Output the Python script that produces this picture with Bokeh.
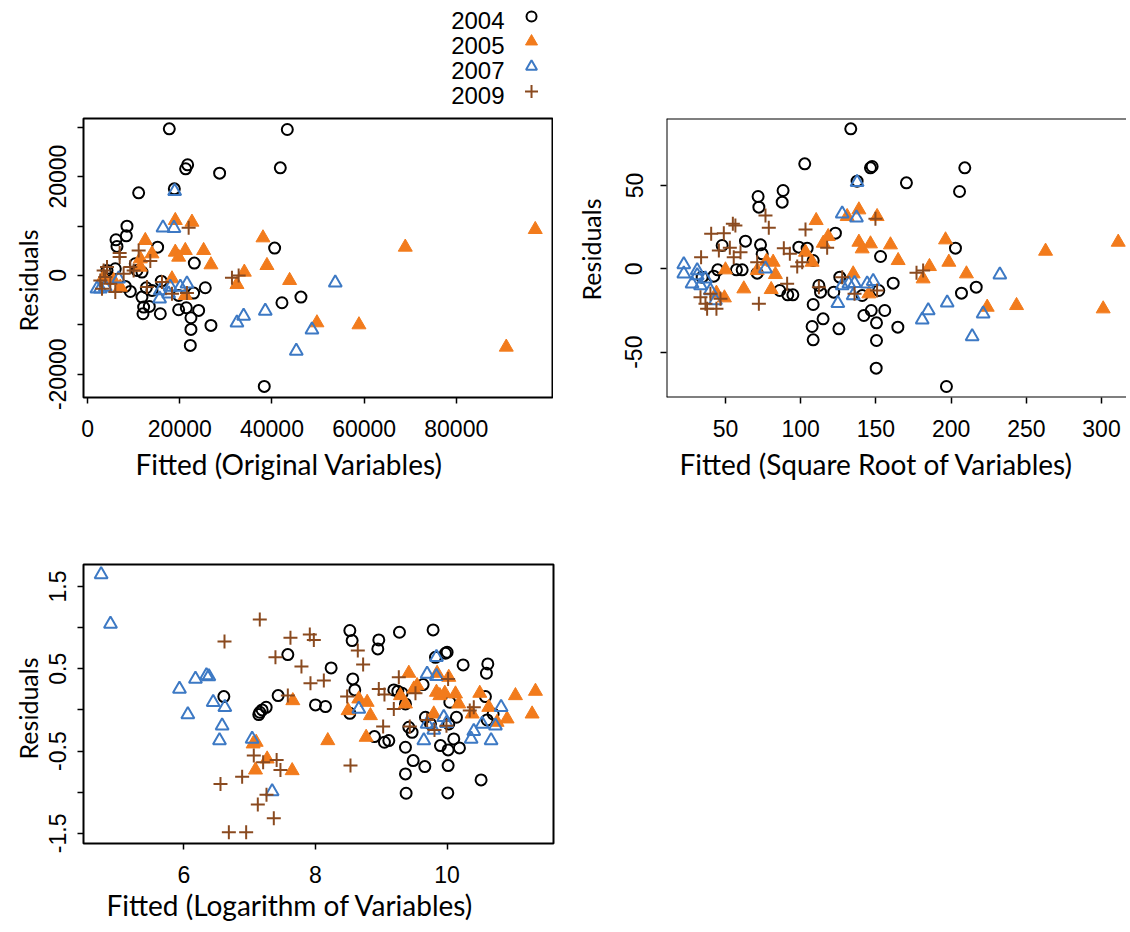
from bokeh.plotting import figure
from bokeh.layouts import column, row
from bokeh.models import Range1d, FixedTicker, Span, Title
from bokeh.core.properties import value
from bokeh.embed import file_html
from bokeh.resources import INLINE

years = ["2004", "2005", "2007", "2009"]

# ---------------- Panel 1: original variables ----------------
orig_2004_x = [17720, 43330, 21700, 21270, 28640, 41810, 11070, 18810, 8535, 8390, 6150, 6365, 15190,
               40580, 23150, 10340, 11790, 6000, 9260, 11790, 12150, 12010, 13380, 15770, 25530, 23000,
               19750, 21410, 22420, 24090, 22420, 22280, 26760, 42170, 46290, 38330, 15985, 12730, 8170,
               4195, 4920, 19750, 13960, 10700]
orig_2004_y = [29670, 29530, 22390, 21580, 20700, 21780, 16720, 17530, 9980, 8020, 7215, 5870, 5730,
               5530, 2500, 2360, 674, 1350, -3240, -4380, -6405, -7755, -6270, -7755, -2495, -3575,
               -6945, -6540, -8565, -7080, -10920, -14160, -10115, -5530, -4380, -22460, -1150, -2495, -2225,
               1010, -674, -4045, -3030, 1010]
orig_2005_x = [19020, 22640, 12510, 13960, 19020, 21190, 25170, 19750, 26760, 38050, 38910, 34000, 32400,
               43830, 68930, 97140, 49760, 58880, 90850, 18300, 21190, 11430, 7090, 5640, 3470, 11430]
orig_2005_y = [11130, 10790, 7080, 4380, 4720, 5060, 5060, 3710, 2160, 7620, 2020, 674, -1820,
               -1010, 5730, 9305, -9575, -9980, -14500, -674, -4045, 1690, -2360, -1010, -337, 3370]
orig_2007_x = [18880, 16350, 18730, 6725, 53740, 38550, 33850, 32400, 48680, 45280, 21550, 17940, 15770,
               15620, 17580, 20110, 2750, 2025, 3830]
orig_2007_y = [17060, 9640, 9575, -674, -1480, -7215, -8225, -9575, -10990, -15310, -1690, -2360, -3030,
               -4720, -3710, -2360, -2700, -2700, -2360]
orig_2009_x = [21920, 11070, 6945, 6945, 13600, 9980, 9260, 31320, 32770, 12870, 18300, 21550, 16130,
               4195, 3470, 2750, 3110, 4920, 6000, 7810, 3830]
orig_2009_y = [9640, 5060, 4520, 3710, 2900, 1010, 1690, -472, 0, -2360, -3710, -3575, -1350,
               1690, 1010, -1010, -2700, -1690, -3370, 337, -337]

# ---------------- Panel 2: square root of variables ----------------
sqrt_2004_x = [133.3, 102.7, 147.5, 146.4, 209.1, 137.5, 170.3, 205.6, 71.7, 88.3, 72.2, 87.7, 123.1, 63.3,
               47.8, 73.3, 74.4, 98.8, 104.3, 108.3, 153.1, 202.9, 57.3, 61.1, 44.9, 42.2, 34.5, 71.1,
               126.0, 112.1, 86.1, 91.4, 94.8, 113.2, 122.0, 140.9, 151.9, 161.5, 206.9, 216.7, 108.3,
               114.9, 107.6, 108.3, 125.4, 142.0, 146.9, 150.4, 155.9, 150.4, 164.6, 150.2, 196.9]
sqrt_2004_y = [84.0, 63.0, 61.4, 60.6, 60.6, 52.6, 51.6, 46.4, 43.4, 47.0, 37.0, 40.0, 21.4, 16.6,
               14.0, 14.4, 9.0, 13.0, 12.4, 5.0, 7.4, 12.4, -0.6, -0.6, -0.6, -4.4, -5.0, -2.6,
               -5.0, -10.0, -13.0, -15.6, -15.6, -14.0, -14.0, -16.0, -13.0, -8.6, -14.6, -11.0, -21.4,
               -30.0, -34.6, -42.6, -36.0, -28.0, -25.0, -32.4, -25.0, -43.0, -35.0, -59.6, -70.6]
sqrt_2005_x = [110.3, 118.3, 115.0, 103.2, 107.6, 130.9, 138.7, 150.8, 138.7, 140.9, 146.4, 159.7, 164.8,
               196.3, 198.5, 185.6, 181.4, 210.2, 134.9, 224.0, 243.5, 262.8, 301.1, 311.1, 77.3, 81.7,
               83.2, 62.2, 80.4, 145.3, 50.0, 71.1, 49.3, 44.0]
sqrt_2005_y = [29.0, 19.4, 15.4, 10.0, 4.0, 31.4, 35.4, 31.4, 16.0, 12.0, 15.0, 14.4, 5.0,
               17.4, 4.0, 1.4, -6.0, -3.0, -3.0, -23.0, -22.0, 10.6, -24.0, 16.0, 4.6, 4.0,
               -3.4, -12.0, -12.4, -15.0, -0.6, -1.0, -17.4, -14.6]
sqrt_2007_x = [137.5, 127.6, 137.1, 76.6, 232.4, 124.7, 197.4, 184.8, 180.8, 221.3, 214.0, 148.2, 144.2,
               135.8, 132.0, 127.6, 134.9, 22.3, 22.3, 31.2, 27.8, 33.4, 36.7, 40.0, 43.3, 31.2]
sqrt_2007_y = [52.0, 33.0, 30.6, 0.0, -3.6, -20.6, -20.4, -25.0, -30.6, -27.0, -40.6, -7.4, -9.0,
               -8.6, -9.0, -10.0, -16.0, 2.6, -3.0, -1.0, -9.0, -10.0, -6.0, -13.0, -19.0, -4.0]
sqrt_2009_x = [54.9, 56.6, 76.6, 78.8, 103.2, 149.7, 40.5, 48.9, 33.8, 45.6, 52.9, 55.5, 60.0, 71.1,
               88.8, 92.8, 97.7, 101.0, 117.6, 72.2, 91.0, 112.1, 127.6, 135.8, 150.8, 177.0, 181.4,
               33.4, 36.7, 40.0, 44.0, 46.7, 37.8]
sqrt_2009_y = [27.0, 26.0, 32.0, 24.6, 23.6, 30.0, 21.0, 21.4, 7.0, 11.0, 12.6, 7.0, 10.0, 4.0,
               12.4, 9.0, 1.4, 4.0, 12.6, -21.0, -9.0, -11.0, -5.0, -15.0, -13.0, -2.4, -1.0,
               -17.0, -21.0, -15.0, -24.0, -18.0, -24.0]

# ---------------- Panel 3: logarithm of variables ----------------
log_2004_x = [6.608, 7.154, 7.139, 7.190, 7.251, 7.433, 7.580, 8.238, 8.000, 8.152, 8.522, 8.557, 8.567,
              8.597, 8.522, 8.962, 8.947, 9.276, 9.190, 9.251, 9.316, 9.367, 8.896, 9.048, 9.114, 9.367,
              9.484, 9.367, 9.377, 9.661, 9.418, 9.468, 9.635, 9.787, 9.823, 9.975, 10.000, 9.671, 9.747,
              10.041, 10.142, 10.025, 10.101, 9.899, 10.015, 10.187, 10.015, 10.010, 10.243, 10.618,
              10.597, 10.582, 10.699, 10.608, 10.516]
log_2004_y = [0.162, -0.028, -0.057, 0.000, 0.032, 0.174, 0.673, 0.511, 0.061, 0.041, 0.965, 0.843, 0.377,
              0.243, -0.041, 0.851, 0.742, 0.944, 0.243, 0.227, 0.203, 0.073, -0.324, -0.393, -0.373, -0.454,
              -0.616, -0.778, -1.013, -0.689, -0.211, -0.272, 0.308, 0.973, 0.640, 0.689, 0.701, -0.089, -0.170,
              0.093, -0.089, -0.170, -0.353, -0.434, -0.486, -0.462, -0.677, -1.009, 0.547, 0.559,
              0.446, 0.162, -0.049, -0.122, -0.851]
log_2005_x = [7.656, 8.187, 7.099, 7.053, 7.266, 7.089, 7.646, 8.496, 8.658, 8.785, 8.835, 8.770, 9.291,
              9.367, 9.418, 9.494, 9.544, 9.848, 9.838, 9.889, 9.965, 10.127, 10.177, 9.797, 10.025,
              10.496, 10.633, 10.380, 10.759, 10.911, 11.038, 11.342, 11.291]
log_2005_y = [0.113, -0.373, -0.393, -0.413, -0.596, -0.730, -0.738, -0.008, 0.134, 0.093, -0.069, -0.332, 0.174,
              0.073, 0.446, 0.255, 0.296, 0.446, 0.215, 0.174, 0.203, 0.195, 0.073, -0.049, 0.397,
              0.203, 0.032, -0.049, -0.150, -0.109, 0.174, 0.227, -0.049]
log_2007_x = [4.744, 4.886, 5.934, 6.177, 6.344, 6.380, 6.061, 6.446, 6.623, 6.582, 6.542, 7.038, 7.342,
              8.658, 9.838, 9.696, 9.838, 9.646, 9.696, 9.797, 9.949, 9.990, 10.405, 10.365, 10.532,
              10.668, 10.734, 10.820]
log_2007_y = [1.646, 1.046, 0.255, 0.377, 0.418, 0.405, -0.057, 0.093, 0.032, -0.191, -0.373, -0.353, -0.993,
              0.012, 0.640, 0.438, 0.409, -0.373, -0.170, -0.243, -0.089, -0.162, -0.259, -0.353, -0.170,
              -0.373, -0.191, 0.032]
log_2009_x = [7.154, 6.618, 7.620, 7.914, 7.975, 7.392, 7.787, 7.924, 8.127, 7.580, 8.643, 8.724, 8.962,
              9.048, 8.481, 9.190, 9.266, 9.519, 10.015, 10.344, 10.405, 9.028, 9.433, 9.696, 9.808,
              9.990, 7.063, 7.205, 7.410, 7.468, 6.886, 6.557, 7.256, 7.124, 7.367, 6.684, 6.947, 8.532]
log_2009_y = [1.098, 0.831, 0.876, 0.916, 0.851, 0.640, 0.527, 0.324, 0.357, 0.174, 0.722, 0.551, 0.255,
              0.186, 0.162, 0.012, 0.397, 0.203, 0.377, -0.008, 0.032, -0.203, -0.203, -0.122, -0.243,
              -0.191, -0.555, -0.636, -0.608, -0.730, -0.811, -0.900, -1.030, -1.151, -1.317, -1.488,
              -1.488, -0.677]

# ticks and tick labels
orig_xticks = [0, 20000, 40000, 60000, 80000]
orig_xlabels = ["0", "20000", "40000", "60000", "80000"]
orig_yticks = [-20000, -10000, 0, 10000, 20000, 30000]
orig_ylabels = ["-20000", "", "0", "", "20000", ""]
sqrt_xticks = [50, 100, 150, 200, 250, 300]
sqrt_xlabels = ["50", "100", "150", "200", "250", "300"]
sqrt_yticks = [-50, 0, 50]
sqrt_ylabels = ["-50", "0", "50"]
log_xticks = [6, 8, 10]
log_xlabels = ["6", "8", "10"]
log_yticks = [-1.5, -1.0, -0.5, 0.0, 0.5, 1.0, 1.5]
log_ylabels = ["-1.5", "", "-0.5", "", "0.5", "", "1.5"]

ORANGE = "#F27B1C"
BLUE = "#3D79C4"
BROWN = "#8A4A1F"
TICK_FONT = "Liberation Sans"
TITLE_FONT = "Lato"


def draw_year(p, year, xs, ys, legend=False):
    if year == "2004":
        p.scatter(xs, ys, marker="circle", size=10 if legend else 11, fill_color=None,
                  line_color="black", line_width=2)
    elif year == "2005":
        p.scatter(xs, ys, marker="triangle", size=12 if legend else 14, fill_color=ORANGE,
                  line_color=ORANGE, line_width=1)
    elif year == "2007":
        p.scatter(xs, ys, marker="triangle", size=11 if legend else 13, fill_color=None,
                  line_color=BLUE, line_width=2)
    else:
        p.scatter(xs, ys, marker="cross", size=13 if legend else 14, line_color=BROWN, line_width=2)


def make_panel(frame_wh, mb, xr, yr, xticks, xlabels, yticks, ylabels, xtitle,
               ylab_standoff, xt_offset, xt_standoff, yt_offset, yt_standoff, open_right=False):
    fw, fh = frame_wh
    p = figure(width=mb[0] + fw + mb[1], height=mb[2] + fh + mb[3],
               x_range=Range1d(*xr), y_range=Range1d(*yr),
               output_backend="svg", toolbar_location=None,
               min_border_left=mb[0], min_border_right=mb[1], min_border_top=mb[2], min_border_bottom=mb[3])
    p.grid.visible = False
    p.background_fill_color = "white"
    p.border_fill_color = "white"
    if open_right:
        # the box runs past the right edge of the page in the reference: draw 3 sides only
        p.outline_line_color = None
        p.add_layout(Span(location=xr[0], dimension="height", line_color="black", line_width=2))
        p.add_layout(Span(location=yr[0], dimension="width", line_color="black", line_width=2))
        p.add_layout(Span(location=yr[1], dimension="width", line_color="black", line_width=2))
    else:
        p.outline_line_color = "black"
        p.outline_line_width = 2
    p.xaxis.ticker = FixedTicker(ticks=xticks)
    p.yaxis.ticker = FixedTicker(ticks=yticks)
    p.xaxis.major_label_overrides = {t: l for t, l in zip(xticks, xlabels)}
    p.yaxis.major_label_overrides = {t: l for t, l in zip(yticks, ylabels)}
    for ax in (p.xaxis[0], p.yaxis[0]):
        ax.axis_line_color = None
        ax.major_tick_line_color = "black"
        ax.major_tick_line_width = 1.5
        ax.major_tick_out = 6
        ax.major_tick_in = 0
        ax.minor_tick_line_color = None
        ax.major_label_text_font = TICK_FONT
        ax.major_label_text_font_size = "23px"
        ax.major_label_text_color = "black"
    p.yaxis.major_label_orientation = "vertical"
    p.xaxis.major_label_standoff = 16
    p.yaxis.major_label_standoff = ylab_standoff

    # axis titles as side titles (allows the off-centre placement of the reference)
    p.add_layout(Title(text=xtitle, align="left", offset=xt_offset, standoff=xt_standoff,
                       vertical_align="top", text_font=TITLE_FONT, text_font_size="28px",
                       text_font_style="normal", text_color="black"), "below")
    p.add_layout(Title(text="Residuals", align="left", offset=yt_offset, standoff=yt_standoff,
                       vertical_align="top", text_font=TITLE_FONT, text_font_size="25px",
                       text_font_style="normal", text_color="black"), "left")
    return p


LEG_W, LEG_H = 1126, 111
FW, FH = 470, 279

p1 = make_panel((FW, FH), (83, 0, 7, 99), (-900, 101100), (-24700, 31760),
                orig_xticks, orig_xlabels, orig_yticks, orig_ylabels, "Fitted (Original Variables)",
                11, 52, 15, 66, 4)
draw_year(p1, "2004", orig_2004_x, orig_2004_y)
draw_year(p1, "2005", orig_2005_x, orig_2005_y)
draw_year(p1, "2007", orig_2007_x, orig_2007_y)
draw_year(p1, "2009", orig_2009_x, orig_2009_y)

p2 = make_panel((460, FH), (113, 0, 7, 99), (10.8, 316.6), (-77.2, 90.2),
                sqrt_xticks, sqrt_xlabels, sqrt_yticks, sqrt_ylabels, "Fitted (Square Root of Variables)",
                18, 13, 15, 97, 30, open_right=True)
draw_year(p2, "2004", sqrt_2004_x, sqrt_2004_y)
draw_year(p2, "2005", sqrt_2005_x, sqrt_2005_y)
draw_year(p2, "2007", sqrt_2007_x, sqrt_2007_y)
draw_year(p2, "2009", sqrt_2009_x, sqrt_2009_y)

p3 = make_panel((FW, FH), (83, 30, 68, 88), (4.476, 11.616), (-1.624, 1.768),
                log_xticks, log_xlabels, log_yticks, log_ylabels, "Fitted (Logarithm of Variables)",
                11, 23, 4, 84, 4)
draw_year(p3, "2004", log_2004_x, log_2004_y)
draw_year(p3, "2005", log_2005_x, log_2005_y)
draw_year(p3, "2007", log_2007_x, log_2007_y)
draw_year(p3, "2009", log_2009_x, log_2009_y)

# legend strip (pixel-space figure, no axes)
leg = figure(width=LEG_W, height=LEG_H, x_range=Range1d(0, LEG_W), y_range=Range1d(LEG_H, 0),
             output_backend="svg", toolbar_location=None,
             x_axis_location=None, y_axis_location=None,
             min_border_left=0, min_border_right=0, min_border_top=0, min_border_bottom=0)
leg.grid.visible = False
leg.outline_line_color = None
LEG_TEXT_RIGHT = 468
LEG_MARK_X = 498
leg_rows = [20 + 25 * i for i in range(len(years))]
leg.text(x=[LEG_TEXT_RIGHT] * len(years), y=leg_rows, text=years, text_font=value(TICK_FONT),
         text_font_size="24px", text_baseline="middle", text_align="right", text_color="black")
for yr_label, yy in zip(years, leg_rows):
    draw_year(leg, yr_label, [LEG_MARK_X], [yy - 4], legend=True)

layout = column(leg, row(p1, p2), p3)
open("out.html", "w").write(file_html(layout, INLINE))
